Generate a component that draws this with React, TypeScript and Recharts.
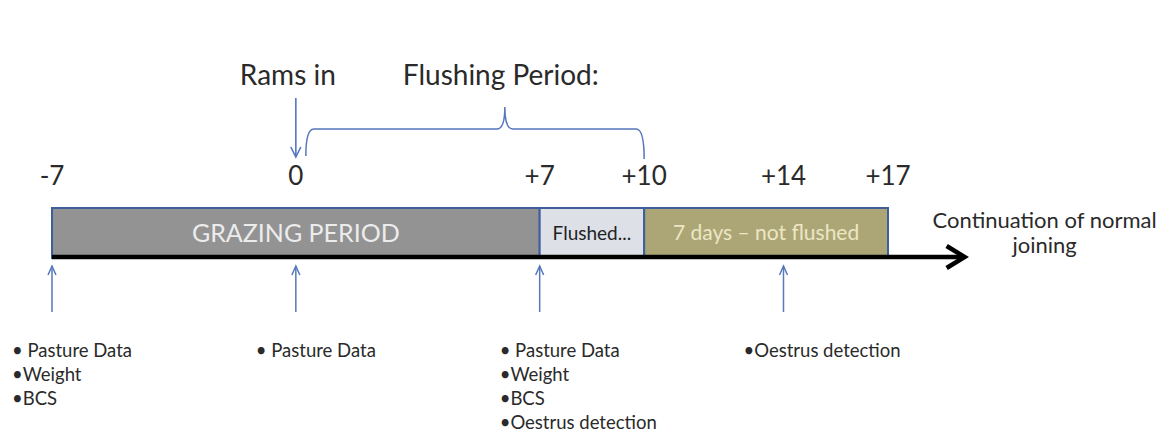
import React from 'react';
import { ComposedChart, XAxis, YAxis, ReferenceArea, ReferenceLine, Scatter } from 'recharts';

// timeline in days relative to rams in
const milestoneDays = [-7, 0, 7, 10, 14, 17];
const phaseNames = ['GRAZING PERIOD', 'Flushed...', '7 days – not flushed'];
const phaseStart = [-7, 7, 10];
const phaseEnd = [7, 10, 17];
const ramsInDay = 0;
const flushStart = 0;
const flushEnd = 10;
const flushPeakDay = 6;
const timelineEnd = 19.2;
const continuationText = ['Continuation of normal', 'joining'];
const checkDays = [-7, 0, 7, 14];
const checkItems = [
  ['• Pasture Data', '•Weight', '•BCS'],
  ['• Pasture Data'],
  ['• Pasture Data', '•Weight', '•BCS', '•Oestrus detection'],
  ['•Oestrus detection'],
];

const FONT = 'Lato, "Open Sans", sans-serif';
const TEXT = '#2a2a2a';
const BLUE = '#5577bb';
const phaseFill = ['#939393', '#dde1e7', '#aca677'];
const phaseText = ['#ececec', '#222222', '#ece7c4'];
const phaseFont = [25, 19, 21];

const W = 1164;
const margin = { top: 0, right: 276, bottom: 0, left: 52 };

const fmtDay = (d: number) => (d > 0 ? `+${d}` : `${d}`);

const DownArrow = (props: any) => {
  const { cx, cy } = props;
  const y2 = cy + 59;
  return (
    <g>
      <text x={cx - 8} y={cy - 13} textAnchor="middle" fontSize={28} fontFamily={FONT} fill={TEXT}>
        Rams in
      </text>
      <line x1={cx} y1={cy} x2={cx} y2={y2} stroke={BLUE} strokeWidth={1.6} />
      <polyline points={`${cx - 5},${y2 - 10} ${cx},${y2} ${cx + 5},${y2 - 10}`} fill="none" stroke={BLUE} strokeWidth={1.6} />
    </g>
  );
};

const Brace = (props: any) => {
  const { x1, y1, x2 } = props;
  const a = x1 + 10;
  const peak = x1 + ((flushPeakDay - flushStart) / (flushEnd - flushStart)) * (x2 - x1);
  const d = `M ${a} ${y1 + 27} Q ${a} ${y1} ${a + 8} ${y1} L ${peak - 8} ${y1} Q ${peak} ${y1} ${peak} ${y1 - 22} Q ${peak} ${y1} ${peak + 8} ${y1} L ${x2 - 8} ${y1} Q ${x2} ${y1} ${x2} ${y1 + 30}`;
  return (
    <g>
      <text x={peak - 4} y={y1 - 44} textAnchor="middle" fontSize={28} fontFamily={FONT} fill={TEXT}>
        Flushing Period:
      </text>
      <path d={d} fill="none" stroke={BLUE} strokeWidth={1.5} />
    </g>
  );
};

const TimeArrow = (props: any) => {
  const { x1, y1, x2 } = props;
  return (
    <g>
      <line x1={x1} y1={y1} x2={x2 - 2} y2={y1} stroke="#000" strokeWidth={4.5} />
      <polyline points={`${x2 - 18},${y1 - 11} ${x2},${y1} ${x2 - 18},${y1 + 11}`} fill="none" stroke="#000" strokeWidth={4.5} />
      {continuationText.map((t, i) => (
        <text key={t} x={x2 + 80} y={y1 - 29 + i * 25} textAnchor="middle" fontSize={22} fontFamily={FONT} fill={TEXT}>
          {t}
        </text>
      ))}
    </g>
  );
};

const CheckMark = (props: any) => {
  const { cx, cy, payload } = props;
  const base = cy + 46;
  return (
    <g>
      <line x1={cx} y1={cy} x2={cx} y2={base} stroke={BLUE} strokeWidth={1.5} />
      <polyline points={`${cx - 4},${cy + 9} ${cx},${cy} ${cx + 4},${cy + 9}`} fill="none" stroke={BLUE} strokeWidth={1.5} />
      {payload.items.map((t: string, i: number) => (
        <text key={i} x={cx - 40} y={base + 45 + i * 24} fontSize={18.5} fontFamily={FONT} fill={TEXT}>
          {t}
        </text>
      ))}
    </g>
  );
};

export default function App() {
  const ramsIn = [{ day: ramsInDay, y: 98 }];
  const checks = checkDays.map((day, i) => ({ day, y: 66, items: checkItems[i] }));

  return (
    <div style={{ position: 'absolute', left: 0, top: 0, width: W, height: 435, background: '#fff' }}>
      <ComposedChart width={W} height={200} data={ramsIn} margin={margin}>
        <XAxis
          dataKey="day"
          type="number"
          domain={[-7, 17]}
          ticks={milestoneDays}
          interval={0}
          tickFormatter={fmtDay}
          axisLine={false}
          tickLine={false}
          tickSize={0}
          tickMargin={7}
          height={40}
          tick={{ fontSize: 26, fill: TEXT, fontFamily: FONT }}
        />
        <YAxis dataKey="y" type="number" domain={[0, 160]} reversed hide />
        <Scatter data={ramsIn} dataKey="y" shape={DownArrow} isAnimationActive={false} />
        <ReferenceLine
          segment={[{ x: flushStart, y: 129 }, { x: flushEnd, y: 129 }]}
          ifOverflow="visible"
          shape={Brace}
        />
      </ComposedChart>
      <ComposedChart width={W} height={235} data={checks} margin={margin}>
        <XAxis dataKey="day" type="number" domain={[-7, 17]} hide />
        <YAxis dataKey="y" type="number" domain={[0, 235]} reversed hide />
        {phaseNames.map((name, i) => (
          <ReferenceArea
            key={name}
            x1={phaseStart[i]}
            x2={phaseEnd[i]}
            y1={8}
            y2={58}
            fill={phaseFill[i]}
            fillOpacity={1}
            stroke="#3f5f9c"
            strokeWidth={2}
            label={{ value: name, position: 'center', fill: phaseText[i], fontSize: phaseFont[i], fontFamily: FONT }}
          />
        ))}
        <ReferenceLine
          segment={[{ x: -7, y: 57 }, { x: timelineEnd, y: 57 }]}
          ifOverflow="visible"
          shape={TimeArrow}
        />
        <Scatter data={checks} dataKey="y" shape={CheckMark} isAnimationActive={false} />
      </ComposedChart>
    </div>
  );
}
